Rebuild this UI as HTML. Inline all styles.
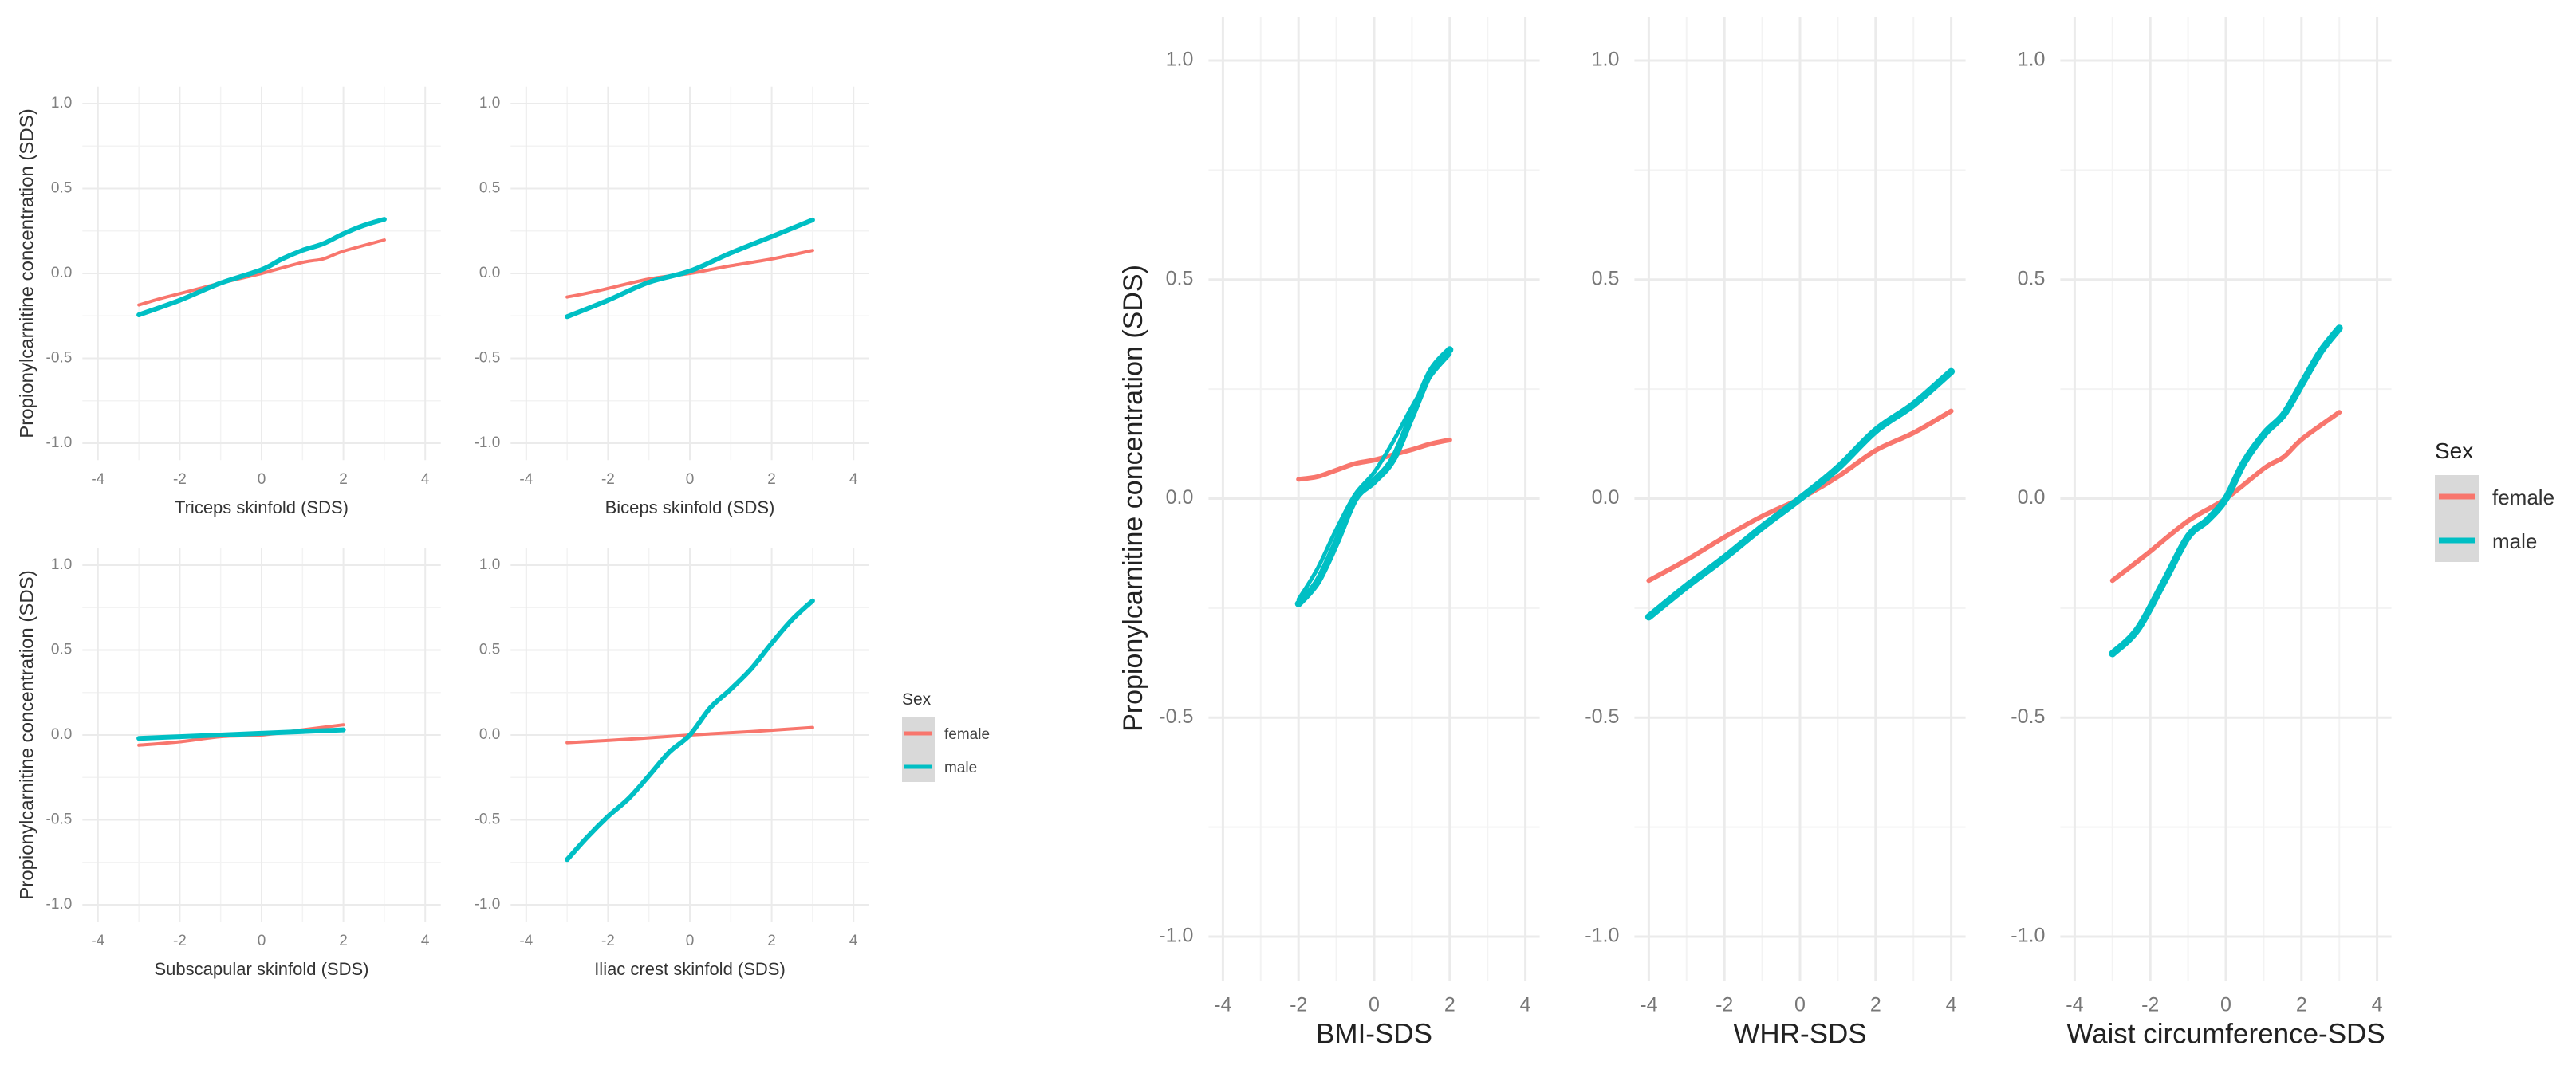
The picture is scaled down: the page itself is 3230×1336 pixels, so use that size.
<!DOCTYPE html>
<html>
<head>
<meta charset="utf-8">
<style>
html,body{margin:0;padding:0;background:#fff;}
svg{display:block;font-family:"Liberation Sans",Arial,sans-serif;}
</style>
</head>
<body>
<svg id="chart" width="3230" height="1336" viewBox="0 0 3230 1336" xmlns="http://www.w3.org/2000/svg">
  <rect x="0" y="0" width="3230" height="1336" fill="#ffffff"/>
  <g id="grids"></g>
  <g id="series"></g>
  <g id="labels"></g>

  <text x="35" y="343" font-size="24" fill="#333" text-anchor="middle" dominant-baseline="middle" transform="rotate(-90 35 343)">Propionylcarnitine concentration (SDS)</text>
  <text x="35" y="922" font-size="24" fill="#333" text-anchor="middle" dominant-baseline="middle" transform="rotate(-90 35 922)">Propionylcarnitine concentration (SDS)</text>
  <text x="1423" y="625" font-size="34" fill="#222" text-anchor="middle" dominant-baseline="middle" transform="rotate(-90 1423 625)">Propionylcarnitine concentration (SDS)</text>

  <g>
    <text x="1131" y="884" font-size="21" fill="#333">Sex</text>
    <rect x="1131" y="899" width="42" height="82" fill="#d9d9d9"/>
    <line x1="1134" y1="920" x2="1169" y2="920" stroke="#F8766D" stroke-width="5"/>
    <line x1="1134" y1="962" x2="1169" y2="962" stroke="#00BFC4" stroke-width="5"/>
    <text x="1184" y="927" font-size="19" fill="#444">female</text>
    <text x="1184" y="969" font-size="19" fill="#444">male</text>
  </g>
  <g>
    <text x="3053" y="575" font-size="28" fill="#222">Sex</text>
    <rect x="3053" y="596" width="55" height="109" fill="#d9d9d9"/>
    <line x1="3058" y1="623" x2="3103" y2="623" stroke="#F8766D" stroke-width="7"/>
    <line x1="3058" y1="678" x2="3103" y2="678" stroke="#00BFC4" stroke-width="7"/>
    <text x="3125" y="633" font-size="26" fill="#333">female</text>
    <text x="3125" y="688" font-size="26" fill="#333">male</text>
  </g>
</svg>
<script>
// ---- data ----
const xTickValues = [-4, -2, 0, 2, 4];
const yTickValues = [-1.0, -0.5, 0.0, 0.5, 1.0];
const yTickLabels = ["-1.0", "-0.5", "0.0", "0.5", "1.0"];
const xTickLabels = ["-4", "-2", "0", "2", "4"];

const tricepsFemaleX = [-3, -2.5, -2, -1, 0, 1, 1.5, 2, 3];
const tricepsFemaleY = [-0.186, -0.15, -0.119, -0.057, 0.0, 0.065, 0.085, 0.131, 0.197];
const tricepsMaleX = [-3, -2, -1, 0, 0.5, 1, 1.5, 2, 2.5, 3];
const tricepsMaleY = [-0.244, -0.158, -0.057, 0.022, 0.085, 0.136, 0.174, 0.234, 0.283, 0.319];

const bicepsFemaleX = [-3, -2.4, -1, 0, 1, 2, 3];
const bicepsFemaleY = [-0.139, -0.111, -0.033, 0.0, 0.045, 0.085, 0.135];
const bicepsMaleX = [-3, -2, -1, 0, 1, 2, 3];
const bicepsMaleY = [-0.255, -0.158, -0.052, 0.014, 0.12, 0.217, 0.315];

const subscapFemaleX = [-3, -2, -1, 0, 1, 2];
const subscapFemaleY = [-0.06, -0.04, -0.01, 0.0, 0.03, 0.06];
const subscapMaleX = [-3, -2, -1, 0, 1, 2];
const subscapMaleY = [-0.02, -0.01, 0.0, 0.01, 0.02, 0.03];

const iliacFemaleX = [-3, -1.5, 0, 1.5, 3];
const iliacFemaleY = [-0.045, -0.025, 0.0, 0.02, 0.044];
const iliacMaleX = [-3, -2.5, -2, -1.5, -1, -0.5, 0, 0.5, 1, 1.5, 2, 2.5, 3];
const iliacMaleY = [-0.734, -0.6, -0.48, -0.375, -0.24, -0.1, 0.0, 0.16, 0.27, 0.39, 0.54, 0.68, 0.79];

const bmiFemaleX = [-2, -1.5, -1, -0.5, 0, 0.5, 1, 1.5, 2];
const bmiFemaleY = [0.044, 0.05, 0.065, 0.08, 0.088, 0.1, 0.112, 0.125, 0.134];
const bmiMaleX = [-2, -1.5, -1, -0.5, 0, 0.5, 1, 1.5, 2];
const bmiMaleY = [-0.24, -0.19, -0.1, 0.0, 0.04, 0.09, 0.19, 0.29, 0.34];
const bmiMale2Y = [-0.23, -0.16, -0.07, 0.01, 0.06, 0.13, 0.21, 0.28, 0.33];

const whrFemaleX = [-4, -3, -2, -1, 0, 1, 2, 3, 4];
const whrFemaleY = [-0.187, -0.14, -0.088, -0.04, 0.0, 0.05, 0.11, 0.15, 0.2];
const whrMaleX = [-4, -3, -2, -1, 0, 1, 2, 3, 4];
const whrMaleY = [-0.27, -0.2, -0.135, -0.065, 0.0, 0.07, 0.155, 0.215, 0.29];

const waistFemaleX = [-3, -2.14, -1, 0, 1.04, 1.53, 2.03, 3];
const waistFemaleY = [-0.187, -0.13, -0.051, 0.0, 0.071, 0.095, 0.137, 0.197];
const waistMaleX = [-3, -2.34, -1.64, -1, -0.5, 0, 0.48, 1.04, 1.53, 2.03, 2.52, 3];
const waistMaleY = [-0.354, -0.299, -0.19, -0.087, -0.05, 0.0, 0.083, 0.15, 0.192, 0.265, 0.337, 0.389];

// ---- layout ----
const NS = "http://www.w3.org/2000/svg";
const gGrid = document.getElementById("grids");
const gSeries = document.getElementById("series");
const gLabels = document.getElementById("labels");
const FEMALE = "#F8766D", MALE = "#00BFC4";

const small = {sx: 51.3, sy: 213, tickFont: 19, tickColor: "#808080", titleFont: 22, titleColor: "#333",
  major: 2, minor: 1.5, fw: 4, mw: 6, labelGap: 13, xTickDy: 264, titleDy: 301};
const big = {sx: 47.4, sy: 549.5, tickFont: 25, tickColor: "#777", titleFont: 35, titleColor: "#222",
  major: 3, minor: 2, fw: 6, mw: 9, labelGap: 19, xTickDy: 643, titleDy: 683};

const panels = [
  {key: "triceps", x0: 328, y0: 343, st: small, title: "Triceps skinfold (SDS)",
   series: [["female", tricepsFemaleX, tricepsFemaleY], ["male", tricepsMaleX, tricepsMaleY]]},
  {key: "biceps", x0: 865, y0: 343, st: small, title: "Biceps skinfold (SDS)",
   series: [["female", bicepsFemaleX, bicepsFemaleY], ["male", bicepsMaleX, bicepsMaleY]]},
  {key: "subscapular", x0: 328, y0: 922, st: small, title: "Subscapular skinfold (SDS)",
   series: [["female", subscapFemaleX, subscapFemaleY], ["male", subscapMaleX, subscapMaleY]]},
  {key: "iliac", x0: 865, y0: 922, st: small, title: "Iliac crest skinfold (SDS)",
   series: [["female", iliacFemaleX, iliacFemaleY], ["male", iliacMaleX, iliacMaleY]]},
  {key: "bmi", x0: 1723, y0: 625.5, st: big, title: "BMI-SDS",
   series: [["female", bmiFemaleX, bmiFemaleY], ["male", bmiMaleX, bmiMaleY], ["male2", bmiMaleX, bmiMale2Y]]},
  {key: "whr", x0: 2257, y0: 625.5, st: big, title: "WHR-SDS",
   series: [["female", whrFemaleX, whrFemaleY], ["male", whrMaleX, whrMaleY]]},
  {key: "waist", x0: 2791, y0: 625.5, st: big, title: "Waist circumference-SDS",
   series: [["female", waistFemaleX, waistFemaleY], ["male", waistMaleX, waistMaleY]]}
];

function mk(tag, attrs, parent) {
  const el = document.createElementNS(NS, tag);
  for (const k in attrs) el.setAttribute(k, attrs[k]);
  parent.appendChild(el);
  return el;
}

function smoothPath(pts) {
  let d = "M" + pts[0][0].toFixed(1) + "," + pts[0][1].toFixed(1);
  for (let i = 0; i < pts.length - 1; i++) {
    const p0 = pts[Math.max(0, i - 1)], p1 = pts[i], p2 = pts[i + 1], p3 = pts[Math.min(pts.length - 1, i + 2)];
    const c1x = p1[0] + (p2[0] - p0[0]) / 6, c1y = p1[1] + (p2[1] - p0[1]) / 6;
    const c2x = p2[0] - (p3[0] - p1[0]) / 6, c2y = p2[1] - (p3[1] - p1[1]) / 6;
    d += " C" + c1x.toFixed(1) + "," + c1y.toFixed(1) + " " + c2x.toFixed(1) + "," + c2y.toFixed(1) + " " + p2[0].toFixed(1) + "," + p2[1].toFixed(1);
  }
  return d;
}

panels.forEach(p => {
  const st = p.st;
  const xs = v => p.x0 + v * st.sx;
  const ys = v => p.y0 - v * st.sy;
  const left = xs(-4.38), right = xs(4.38), top = ys(1.1), bottom = ys(-1.1);
  // minor grid
  for (let v = -3; v <= 3; v += 2) {
    const l = mk("line", {x1: xs(v), x2: xs(v), y1: top, y2: bottom, stroke: "#f3f3f3", "stroke-width": st.minor}, gGrid);
    
    
  }
  for (let v = -0.75; v <= 0.75; v += 0.5) {
    const l = mk("line", {x1: left, x2: right, y1: ys(v), y2: ys(v), stroke: "#f3f3f3", "stroke-width": st.minor}, gGrid);
    
    
  }
  // major grid + ticks
  xTickValues.forEach((v, i) => {
    const l = mk("line", {x1: xs(v), x2: xs(v), y1: top, y2: bottom, stroke: "#ebebeb", "stroke-width": st.major}, gGrid);
    
    
    const t = mk("text", {x: xs(v), y: p.y0 + st.xTickDy, "font-size": st.tickFont, fill: st.tickColor, "text-anchor": "middle"}, gLabels);
    t.textContent = xTickLabels[i];
    
    
  });
  yTickValues.forEach((v, i) => {
    const l = mk("line", {x1: left, x2: right, y1: ys(v), y2: ys(v), stroke: "#ebebeb", "stroke-width": st.major}, gGrid);
    
    
    const t = mk("text", {x: left - st.labelGap, y: ys(v), "font-size": st.tickFont, fill: st.tickColor, "text-anchor": "end", "dominant-baseline": "middle"}, gLabels);
    t.textContent = yTickLabels[i];
    
    
  });
  const tt = mk("text", {x: p.x0, y: p.y0 + st.titleDy, "font-size": st.titleFont, fill: st.titleColor, "text-anchor": "middle"}, gLabels);
  tt.textContent = p.title;
  
  
  // series
  p.series.forEach(s => {
    const [name, X, Y] = s;
    const pts = X.map((v, i) => [xs(v), ys(Y[i])]);
    const isF = name === "female";
    const w = isF ? st.fw : (name === "male2" ? st.mw * 0.55 : st.mw);
    const path = mk("path", {d: smoothPath(pts), fill: "none", stroke: isF ? FEMALE : MALE, "stroke-width": w, "stroke-linecap": "round", "stroke-linejoin": "round"}, gSeries);
    
    
  });
});
</script>
</body>
</html>
